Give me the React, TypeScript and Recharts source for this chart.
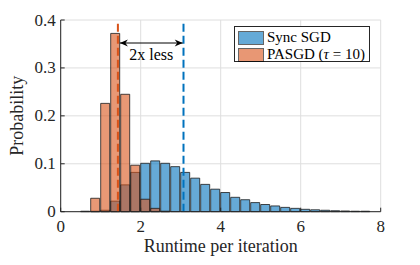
import React from 'react';
import { ComposedChart, Bar, XAxis, YAxis, CartesianGrid, ReferenceLine, Legend } from 'recharts';

// histogram bins (centres, width 0.25)
const binCenters = [
  0.125, 0.375, 0.625, 0.875, 1.125, 1.375, 1.625, 1.875,
  2.125, 2.375, 2.625, 2.875, 3.125, 3.375, 3.625, 3.875,
  4.125, 4.375, 4.625, 4.875, 5.125, 5.375, 5.625, 5.875,
  6.125, 6.375, 6.625, 6.875, 7.125, 7.375, 7.625, 7.875,
];
const syncSgd = [
  0, 0, 0.001, 0.001, 0.003, 0.022, 0.056, 0.082,
  0.101, 0.106, 0.101, 0.094, 0.082, 0.07, 0.057, 0.047,
  0.04, 0.03, 0.025, 0.019, 0.015, 0.012, 0.009, 0.007,
  0.005, 0.004, 0.003, 0.002, 0.0015, 0.001, 0.001, 0,
];
const pasgd = [
  0, 0, 0, 0.028, 0.226, 0.372, 0.245, 0.097,
  0.026, 0.007, 0.001, 0, 0, 0, 0, 0,
  0, 0, 0, 0, 0, 0, 0, 0,
  0, 0, 0, 0, 0, 0, 0, 0,
];
const seriesNames = ['Sync SGD', 'PASGD (τ = 10)'];
const xTicks = [0, 2, 4, 6, 8];
const yTicks = [0, 0.1, 0.2, 0.3, 0.4];
const pasgdMean = 1.43;
const syncMean = 3.07;
const arrowFrom = 1.48;
const arrowTo = 3.05;
const arrowLevel = 0.352;
const arrowText = '2x less';

const data = binCenters.map((x, i) => ({ x, sync: syncSgd[i], pasgd: pasgd[i] }));

const FONT = '"Liberation Serif", "Times New Roman", serif';
const AXIS = '#262626';
const BLUE = '#0072BD';
const ORANGE = '#D95319';

const BottomTick = ({ x, y, payload }: any) => (
  <g>
    <line x1={x} y1={y} x2={x} y2={y - 4} stroke={AXIS} />
    <text x={x} y={y + 20} textAnchor="middle" style={{ fontFamily: FONT }} fontSize={17} fill={AXIS}>
      {payload.value}
    </text>
  </g>
);
const TopTick = ({ x, y }: any) => <line x1={x} y1={y} x2={x} y2={y + 4} stroke={AXIS} />;
const LeftTick = ({ x, y, payload }: any) => (
  <g>
    <line x1={x} y1={y} x2={x + 4} y2={y} stroke={AXIS} />
    <text x={x - 5} y={y + 5.5} textAnchor="end" style={{ fontFamily: FONT }} fontSize={17} fill={AXIS}>
      {payload.value}
    </text>
  </g>
);
const RightTick = ({ x, y }: any) => <line x1={x} y1={y} x2={x - 4} y2={y} stroke={AXIS} />;

const XLabel = ({ viewBox }: any) => (
  <text x={viewBox.x + viewBox.width / 2} y={viewBox.y + 40} textAnchor="middle" style={{ fontFamily: FONT }} fontSize={18} fill={AXIS}>
    Runtime per iteration
  </text>
);
const YLabel = ({ viewBox }: any) => {
  const cx = viewBox.x + 23;
  const cy = viewBox.y + viewBox.height / 2;
  return (
    <text x={cx} y={cy} transform={`rotate(-90 ${cx} ${cy})`} textAnchor="middle" style={{ fontFamily: FONT }} fontSize={18} fill={AXIS}>
      Probability
    </text>
  );
};

const DoubleArrow = ({ x1, y1, x2, y2 }: any) => {
  const L = 8;
  const H = 3.5;
  return (
    <g>
      <line x1={x1} y1={y1} x2={x2} y2={y2} stroke="#000" strokeWidth={1} />
      <path d={`M${x1},${y1} L${x1 + L},${y1 - H} L${x1 + L - 2.5},${y1} L${x1 + L},${y1 + H} Z`} fill="#000" />
      <path d={`M${x2},${y2} L${x2 - L},${y2 - H} L${x2 - L + 2.5},${y2} L${x2 - L},${y2 + H} Z`} fill="#000" />
      <text x={(x1 + x2) / 2} y={y1 + 17} textAnchor="middle" style={{ fontFamily: FONT }} fontSize={16} fill="#000">
        {arrowText}
      </text>
    </g>
  );
};

const renderName = (name: string) => {
  const parts = name.split('τ');
  if (parts.length === 1) return name;
  return (
    <>
      {parts[0]}
      <i>τ</i>
      {parts[1]}
    </>
  );
};

const LegendBox = () => {
  const fills = [BLUE, ORANGE];
  return (
    <div
      style={{
        boxSizing: 'border-box',
        width: 136,
        height: 36,
        border: `1px solid ${AXIS}`,
        background: '#fff',
        padding: '2px 0 0 3px',
        fontFamily: FONT,
        fontSize: 15,
        lineHeight: '17px',
        color: '#000',
        whiteSpace: 'nowrap',
      }}
    >
      {seriesNames.map((name, i) => (
        <div key={name} style={{ display: 'flex', alignItems: 'center', height: 17 }}>
          <span
            style={{
              boxSizing: 'border-box',
              display: 'inline-block',
              width: 26,
              height: 14,
              marginRight: 3,
              background: fills[i],
              opacity: 0.6,
              border: '1px solid #000',
            }}
          />
          <span>{renderName(name)}</span>
        </div>
      ))}
    </div>
  );
};

export default function App() {
  return (
    <div style={{ position: 'absolute', left: 0, top: 0, width: 420, height: 265, background: '#fff' }}>
      <ComposedChart
        width={420}
        height={265}
        data={data}
        margin={{ top: 20, right: 39.3, bottom: 8.3, left: 0 }}
      >
        <CartesianGrid xAxisId="a" yAxisId="l" stroke="#dedede" strokeWidth={1} />
        <XAxis
          xAxisId="a"
          dataKey="x"
          type="number"
          domain={[0, 8]}
          ticks={xTicks}
          height={45}
          stroke={AXIS}
          tickLine={false}
          tickSize={0}
          tickMargin={0}
          tick={<BottomTick />}
          label={<XLabel />}
          interval={0}
        />
        <XAxis
          xAxisId="b"
          dataKey="x"
          type="number"
          orientation="top"
          domain={[0, 8]}
          ticks={xTicks}
          height={0}
          stroke={AXIS}
          tickLine={false}
          tickSize={0}
          tickMargin={0}
          tick={<TopTick />}
          interval={0}
        />
        <YAxis
          yAxisId="l"
          type="number"
          domain={[0, 0.4]}
          ticks={yTicks}
          width={60.7}
          stroke={AXIS}
          tickLine={false}
          tickSize={0}
          tickMargin={0}
          tick={<LeftTick />}
          label={<YLabel />}
          interval={0}
        />
        <YAxis
          yAxisId="r"
          orientation="right"
          type="number"
          domain={[0, 0.4]}
          ticks={yTicks}
          width={0}
          stroke={AXIS}
          tickLine={false}
          tickSize={0}
          tickMargin={0}
          tick={<RightTick />}
          interval={0}
        />
        <Bar
          xAxisId="a"
          yAxisId="l"
          dataKey="sync"
          name={seriesNames[0]}
          fill={BLUE}
          fillOpacity={0.6}
          stroke="#1a1a1a"
          strokeWidth={0.8}
          barSize={10}
          isAnimationActive={false}
        />
        <Bar
          xAxisId="b"
          yAxisId="l"
          dataKey="pasgd"
          name={seriesNames[1]}
          fill={ORANGE}
          fillOpacity={0.6}
          stroke="#1a1a1a"
          strokeWidth={0.8}
          barSize={10}
          isAnimationActive={false}
        />
        <ReferenceLine xAxisId="a" yAxisId="l" x={pasgdMean} stroke={ORANGE} strokeWidth={2} strokeDasharray="8 4" />
        <ReferenceLine xAxisId="a" yAxisId="l" x={syncMean} stroke={BLUE} strokeWidth={2} strokeDasharray="8 4" />
        <ReferenceLine
          xAxisId="a"
          yAxisId="l"
          segment={[
            { x: arrowFrom, y: arrowLevel },
            { x: arrowTo, y: arrowLevel },
          ]}
          shape={<DoubleArrow />}
        />
        <Legend
          layout="vertical"
          align="center"
          verticalAlign="middle"
          content={<LegendBox />}
          wrapperStyle={{ left: 234, top: 26, width: 'auto', height: 'auto' }}
        />
      </ComposedChart>
    </div>
  );
}
